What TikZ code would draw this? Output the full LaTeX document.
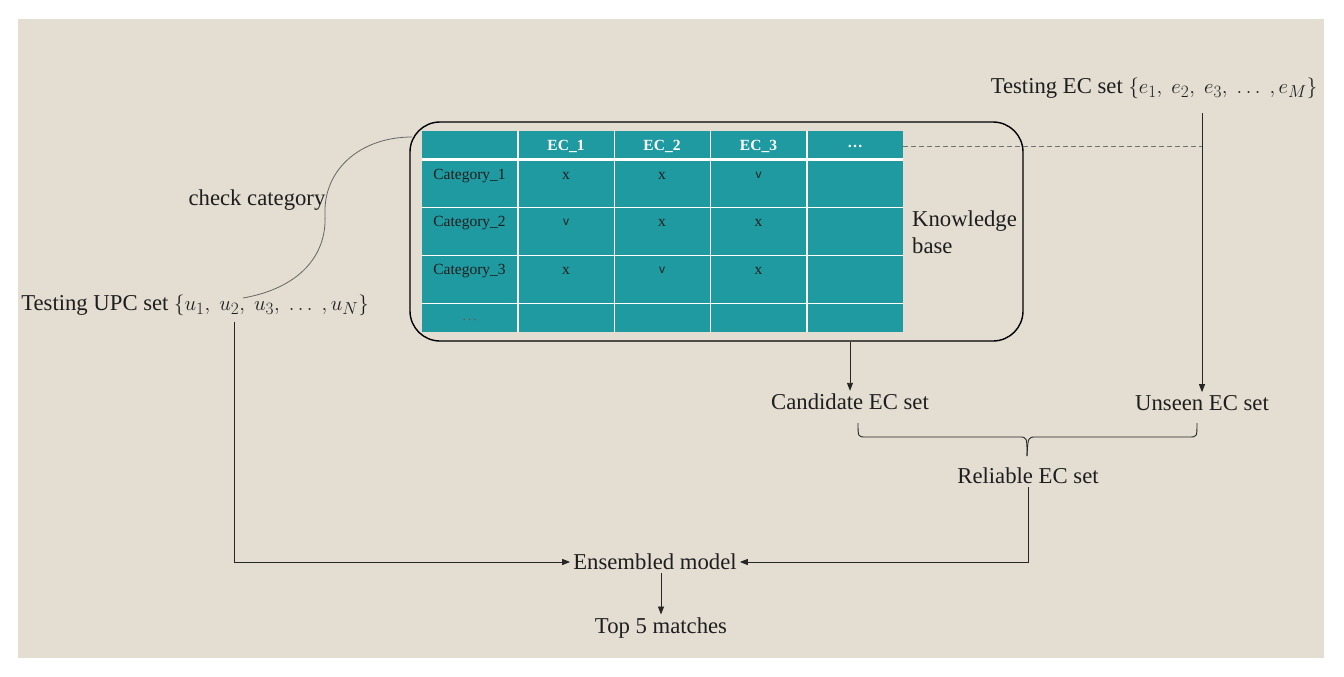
\documentclass[tikz,border=0pt]{standalone}
\usepackage{fontspec}
\setmainfont{Liberation Serif}
\newfontfamily\sansf{Liberation Sans}
\usetikzlibrary{arrows.meta}
\definecolor{bgc}{HTML}{E3DDD2}
\definecolor{tealc}{HTML}{1F9AA0}
\definecolor{txt}{HTML}{1E1E1E}
\begin{document}
\begin{tikzpicture}[x=1pt,y=-1pt,
  font=\fontsize{22.7}{27}\selectfont,
  lbl/.style={text=txt,inner sep=3pt},
  arr/.style={draw=black!85,line width=0.9pt,-{Triangle[length=8pt,width=6pt]}},
  ln/.style={draw=black!85,line width=0.9pt},
  hdr/.style={text=white,font=\fontsize{15.5}{18}\selectfont\bfseries},
  cell/.style={text=txt,font=\fontsize{15.5}{18}\selectfont},
  vee/.style={text=txt,font=\fontsize{12}{14}\selectfont\sansf},
  grid/.style={draw=white,line width=1.6pt}]
\useasboundingbox (0,0) rectangle (1344,677);
\fill[white] (0,0) rectangle (1344,677);
\fill[bgc] (18,19) rectangle (1324,658);

% table
\fill[tealc] (422,131) rectangle (903,332);
\foreach \xx in {517.7,614.3,710.3,806.7} \draw[grid] (\xx,131) -- (\xx,332);
\draw[draw=white,line width=3.5pt] (422,159.5) -- (903,159.5);
\foreach \yy in {207.3,255.3,303.3} \draw[grid] (422,\yy) -- (903,\yy);
\node[hdr] (h1) at (566,146) {EC\_1};
\node[hdr] (h2) at (662,146) {EC\_2};
\node[hdr] (h3) at (758.5,146) {EC\_3};
\node[hdr] (h4) at (855,146) {\dots};
\node[cell] (c1) at (469.5,176) {Category\_1};
\node[cell] (c2) at (469.5,223) {Category\_2};
\node[cell] (c3) at (469.5,271) {Category\_3};
\node[cell,text=txt!70] (c4) at (469.5,320) {\dots};
\node[cell] (r11) at (566,176) {x};
\node[cell] (r12) at (662,176) {x};
\node[vee] (r13) at (758.5,175) {v};
\node[vee] (r21) at (566,222) {v};
\node[cell] (r22) at (662,223) {x};
\node[cell] (r23) at (758.5,223) {x};
\node[cell] (r31) at (566,271) {x};
\node[vee] (r32) at (662,270) {v};
\node[cell] (r33) at (758.5,271) {x};

\node[draw=black,line width=1.4pt,rounded corners=30pt,minimum width=613pt,minimum height=219pt,inner sep=0pt] (kb) at (716.5,231.5) {};
\node[lbl,align=left,anchor=west] (kbl) at (909,232) {Knowledge\\base};

% texts
\node[lbl] (upc) at (195,305) {Testing UPC set $\{u_1,\ u_2,\ u_3,\ \ldots\ ,u_N\}$};
\node[lbl] (ecs) at (1154,88) {Testing EC set $\{e_1,\ e_2,\ e_3,\ \ldots\ ,e_M\}$};
\node[lbl] (chk) at (257,200) {check category};
\node[lbl] (cand) at (850,402) {Candidate EC set};
\node[lbl] (unseen) at (1202,403) {Unseen EC set};
\node[lbl] (rel) at (1028,476) {Reliable EC set};
\node[lbl] (ens) at (655,562) {Ensembled model};
\node[lbl] (top) at (661,628) {Top 5 matches};

% connectors
\coordinate (ecdrop) at (1202,113);
\coordinate (dashend) at (1202,146);
\coordinate (dashstart) at (903,146);
\draw[arr] (ecdrop) -- (unseen.north);
\draw[draw=black!55,line width=0.9pt,dash pattern=on 5pt off 3pt] (dashstart) -- (dashend);
\draw[arr] (cand.north |- kb.south) -- (cand.north);

% brace
\draw[ln] (858,423) .. controls (858,437) .. (866,437) -- (1019,437)
  .. controls (1027,437) .. (1027,456);
\draw[ln] (1027,456) .. controls (1028,437) .. (1036,437) -- (1189,437)
  .. controls (1197,437) .. (1197,423);

\draw[arr] (rel.south) |- (ens.east);
\coordinate (u2) at (234,322);
\draw[arr] (u2) |- (ens.west);
\draw[arr] (top.north |- ens.south) -- (top.north);

% check category curve
\coordinate (cstart) at (243,298);
\coordinate (cend) at (412,137);
\draw[draw=black!60,line width=0.8pt] (cstart) .. controls (300,288) and (327,255) .. (325,215)
  .. controls (323,170) and (360,137) .. (cend);
\end{tikzpicture}
\end{document}
